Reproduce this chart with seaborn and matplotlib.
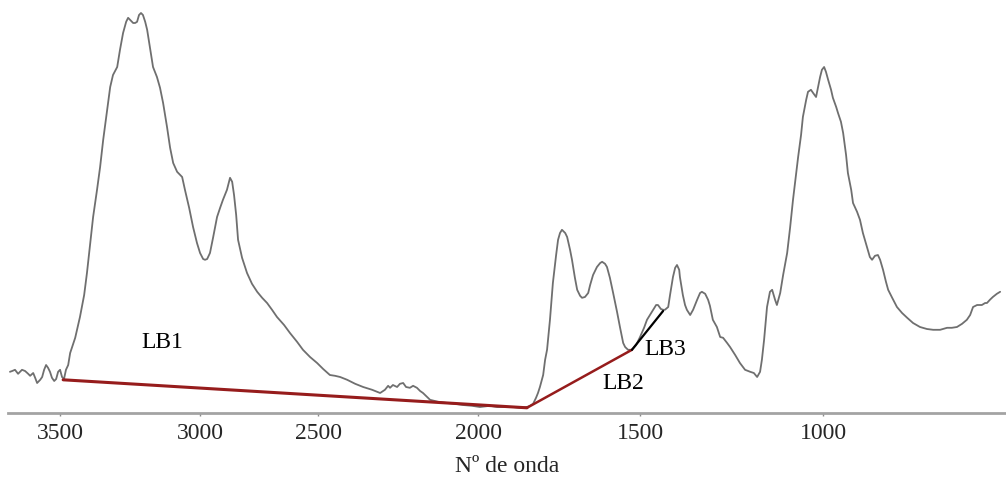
import numpy as np
import pandas as pd
import matplotlib
matplotlib.use("Agg")
import matplotlib.pyplot as plt
import seaborn as sns

# FTIR spectrum: wavenumber (cm-1) and absorbance (a.u.)
wavenumber = [
    3679, 3671, 3661, 3650, 3643, 3636, 3625, 3614, 3607, 3596, 3589, 3582, 3571, 3564, 3557,
    3550, 3543, 3536, 3529, 3521, 3514, 3507, 3500, 3493, 3486, 3479, 3471, 3464, 3446, 3429,
    3414, 3404, 3393, 3382, 3368, 3357, 3346, 3332, 3321, 3311, 3296, 3286, 3275, 3264, 3257,
    3250, 3239, 3232, 3225, 3218, 3211, 3204, 3196, 3189, 3179, 3168, 3154, 3143, 3132, 3118,
    3107, 3096, 3082, 3064, 3054, 3039, 3025, 3011, 3000, 2987, 2979, 2970, 2958, 2945, 2928,
    2915, 2903, 2886, 2873, 2864, 2856, 2847, 2839, 2822, 2801, 2780, 2758, 2737, 2716, 2695,
    2674, 2644, 2619, 2589, 2564, 2534, 2504, 2484, 2463, 2447, 2431, 2409, 2384, 2359, 2331,
    2306, 2297, 2291, 2281, 2275, 2266, 2253, 2244, 2234, 2225, 2213, 2203, 2191, 2181, 2172,
    2159, 2150, 2125, 2097, 2072, 2047, 2019, 1994, 1963, 1941, 1917, 1892, 1870, 1849, 1840,
    1830, 1821, 1815, 1809, 1799, 1793, 1787, 1778, 1769, 1759, 1753, 1747, 1741, 1731, 1725,
    1716, 1710, 1701, 1694, 1685, 1679, 1670, 1660, 1654, 1645, 1633, 1623, 1617, 1608, 1602,
    1593, 1583, 1571, 1562, 1552, 1546, 1537, 1525, 1512, 1500, 1489, 1481, 1473, 1464, 1456,
    1451, 1443, 1437, 1432, 1423, 1418, 1410, 1404, 1399, 1393, 1391, 1383, 1377, 1372, 1363,
    1355, 1344, 1336, 1331, 1322, 1314, 1309, 1301, 1290, 1281, 1273, 1262, 1254, 1240, 1227,
    1213, 1199, 1189, 1180, 1172, 1167, 1161, 1153, 1145, 1139, 1131, 1126, 1117, 1109, 1098,
    1090, 1082, 1074, 1068, 1060, 1055, 1046, 1041, 1033, 1027, 1019, 1014, 1008, 1003, 997,
    992, 986, 978, 973, 964, 959, 951, 945, 937, 932, 923, 918, 907, 899, 891,
    880, 872, 866, 858, 850, 844, 836, 828, 822, 811, 798, 784, 770, 754, 735,
    716, 699, 680, 661, 648, 634, 620, 607, 598, 590, 579, 566, 557, 552, 544,
    536, 525, 516,
]
absorbance = [
    0.103, 0.105, 0.108, 0.098, 0.103, 0.108, 0.105, 0.098, 0.093, 0.100, 0.088, 0.075, 0.083, 0.090, 0.108,
    0.120, 0.113, 0.103, 0.088, 0.080, 0.085, 0.103, 0.108, 0.090, 0.085, 0.108, 0.120, 0.150, 0.188, 0.240,
    0.295, 0.350, 0.420, 0.490, 0.558, 0.615, 0.683, 0.758, 0.815, 0.845, 0.865, 0.908, 0.950, 0.978, 0.988,
    0.983, 0.975, 0.975, 0.978, 0.995, 1.000, 0.995, 0.978, 0.958, 0.913, 0.865, 0.840, 0.813, 0.775, 0.715,
    0.663, 0.625, 0.603, 0.590, 0.558, 0.513, 0.465, 0.425, 0.400, 0.385, 0.383, 0.385, 0.400, 0.438, 0.490,
    0.513, 0.533, 0.558, 0.588, 0.578, 0.545, 0.495, 0.433, 0.388, 0.350, 0.323, 0.303, 0.288, 0.275, 0.258,
    0.240, 0.220, 0.200, 0.178, 0.158, 0.140, 0.125, 0.110, 0.095, 0.093, 0.090, 0.083, 0.073, 0.065, 0.058,
    0.050, 0.055, 0.058, 0.068, 0.063, 0.070, 0.065, 0.073, 0.075, 0.065, 0.063, 0.068, 0.063, 0.055, 0.050,
    0.040, 0.033, 0.028, 0.025, 0.023, 0.020, 0.018, 0.015, 0.018, 0.015, 0.015, 0.015, 0.013, 0.015, 0.018,
    0.023, 0.038, 0.050, 0.065, 0.095, 0.133, 0.158, 0.233, 0.325, 0.395, 0.433, 0.450, 0.458, 0.450, 0.440,
    0.408, 0.383, 0.338, 0.308, 0.293, 0.288, 0.290, 0.300, 0.320, 0.345, 0.365, 0.375, 0.378, 0.373, 0.365,
    0.338, 0.300, 0.253, 0.215, 0.175, 0.165, 0.158, 0.158, 0.170, 0.190, 0.213, 0.233, 0.245, 0.258, 0.270,
    0.270, 0.260, 0.258, 0.258, 0.265, 0.295, 0.340, 0.363, 0.370, 0.358, 0.340, 0.295, 0.270, 0.258, 0.245,
    0.258, 0.283, 0.300, 0.303, 0.298, 0.283, 0.268, 0.233, 0.215, 0.190, 0.188, 0.175, 0.165, 0.145, 0.125,
    0.108, 0.103, 0.100, 0.090, 0.103, 0.133, 0.183, 0.265, 0.303, 0.308, 0.283, 0.270, 0.300, 0.345, 0.400,
    0.463, 0.533, 0.595, 0.640, 0.695, 0.740, 0.783, 0.803, 0.808, 0.800, 0.790, 0.813, 0.840, 0.858, 0.865,
    0.853, 0.833, 0.808, 0.788, 0.765, 0.750, 0.728, 0.700, 0.645, 0.600, 0.558, 0.525, 0.503, 0.483, 0.450,
    0.415, 0.390, 0.383, 0.393, 0.395, 0.383, 0.358, 0.328, 0.308, 0.288, 0.265, 0.250, 0.238, 0.225, 0.215,
    0.210, 0.208, 0.208, 0.213, 0.213, 0.215, 0.223, 0.233, 0.245, 0.265, 0.270, 0.270, 0.275, 0.275, 0.283,
    0.290, 0.298, 0.303,
]

# Baselines (wavenumber, absorbance) of each band region
lb1_wn = [3489, 1849]
lb1_abs = [0.083, 0.013]
lb2_wn = [1849, 1525]
lb2_abs = [0.013, 0.158]
lb3_wn = [1525, 1437]
lb3_abs = [0.158, 0.255]

# Baseline labels
band_labels = ["LB1", "LB2", "LB3"]
label_wn = [3136, 1552, 1432]
label_abs = [0.175, 0.073, 0.158]

tick_values = [3500, 3000, 2500, 2000, 1500, 1000]
tick_labels = ["3500", "3000", "2500", "2000", "1500", "1000"]

# Piecewise-linear wavenumber axis (expanded below 2000 cm-1)
_scale_wn = np.array([0, 1000, 1500, 2000, 2500, 3000, 3500, 4000], dtype=float)
_scale_u = np.array([1189, 823, 640, 478, 318, 200, 60, -80], dtype=float)


def _forward(w):
    return -np.interp(w, _scale_wn, _scale_u)


def _inverse(v):
    return np.interp(-np.asarray(v, dtype=float), _scale_u[::-1], _scale_wn[::-1])


sns.set_theme(style="white")
plt.rcParams["font.family"] = ["Liberation Serif", "DejaVu Serif"]

fig = plt.figure(figsize=(10.06, 4.79), dpi=100)
ax = fig.add_axes([8 / 1006, 66 / 479, 998 / 1006, 413 / 479])
ax.set_xscale("function", functions=(_forward, _inverse))

spec = pd.DataFrame({"wn": wavenumber, "abs": absorbance})
sns.lineplot(data=spec, x="wn", y="abs", ax=ax, color="#6f6f6f", lw=1.3,
             estimator=None, sort=False)

for xs, ys, col, lw in [(lb1_wn, lb1_abs, "#961c1c", 2.2),
                        (lb2_wn, lb2_abs, "#961c1c", 1.8),
                        (lb3_wn, lb3_abs, "#000000", 1.6)]:
    sns.lineplot(x=xs, y=ys, ax=ax, color=col, lw=lw, estimator=None, sort=False)

for txt, xw, ya in zip(band_labels, label_wn, label_abs):
    ax.text(xw, ya, txt, ha="center", va="center", fontsize=17, color="black")

ax.set_xlim(3686, 500)
ax.set_ylim(0, 1.0325)
ax.set_xticks(tick_values)
ax.set_xticklabels(tick_labels)
ax.xaxis.set_minor_locator(matplotlib.ticker.NullLocator())
ax.tick_params(axis="x", direction="out", length=2.5, width=1, color="#8a8a8a",
               labelsize=17, pad=5, bottom=True)
ax.set_yticks([])
ax.set_ylabel("")
ax.set_xlabel("Nº de onda", fontsize=17, labelpad=8)

for side in ["left", "right", "top"]:
    ax.spines[side].set_visible(False)
ax.spines["bottom"].set_color("#a3a3a3")
ax.spines["bottom"].set_linewidth(2)
ax.patch.set_alpha(0)

fig.savefig("out.png", dpi=100, facecolor="white")
